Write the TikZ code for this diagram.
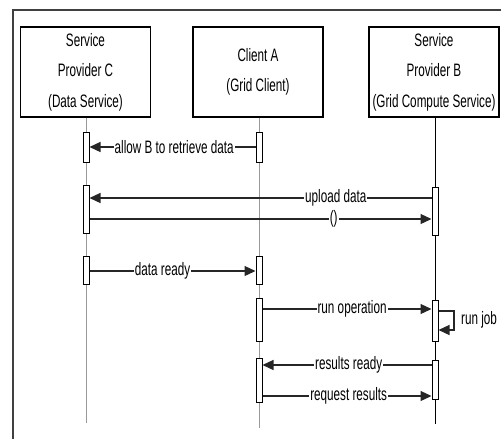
\documentclass[tikz,border=0pt]{standalone}
\usepackage{fontspec}
\setmainfont{Liberation Sans}[FakeStretch=0.65]
\usetikzlibrary{arrows.meta}
\begin{document}
\begin{tikzpicture}[x=1pt,y=-1pt,
  every node/.style={font={\fontsize{18}{30.5}\selectfont}},
  framestyle/.style={draw=black!75,line width=1.4pt},
  actor/.style={draw=black,line width=1.2pt,minimum width=130pt,minimum height=90pt,align=center,inner sep=0pt},
  greyline/.style={draw=black!40,line width=1pt},
  blackline/.style={draw=black,line width=1pt},
  bar/.style={draw=black,fill=white,line width=1pt,minimum width=6pt,inner sep=0pt},
  msg/.style={draw=black!85,line width=1.2pt},
  tip/.style={msg,-{Triangle[length=11pt,width=10pt]}},
  lbl/.style={fill=white,inner xsep=1pt,inner ysep=0pt}]
\useasboundingbox (0,0) rectangle (501,439);
% frame
\coordinate (fbl) at (13,440);
\coordinate (ftl) at (13,10);
\coordinate (ftr) at (502,10);
\draw[framestyle] (fbl) -- (ftl) -- (ftr);
% actors
\node[actor] (C) at (85.5,72) {Service\\Provider C\\(Data Service)};
\node[actor] (A) at (258,72) {Client A\\(Grid Client)};
\node[actor] (B) at (434,72) {Service\\Provider B\\(Grid Compute Service)};
% lifelines
\coordinate (Cend) at (86,423);
\coordinate (Aend) at (259,428);
\coordinate (Bend) at (435,424);
\draw[greyline] (C.south -| Cend) -- (Cend);
\draw[greyline] (A.south -| Aend) -- (Aend);
\draw[blackline] (B.south -| Bend) -- (Bend);
% activation bars
\node[bar,minimum height=30pt] (c1) at (86,147) {};
\node[bar,minimum height=30pt] (a1) at (259,147) {};
\node[bar,minimum height=48pt] (c2) at (86,209) {};
\node[bar,minimum height=48pt] (b1) at (435,211) {};
\node[bar,minimum height=28pt] (c3) at (86,270) {};
\node[bar,minimum height=28pt] (a2) at (259,270) {};
\node[bar,minimum height=43pt] (a3) at (259,319.5) {};
\node[bar,minimum height=41pt] (b2) at (435,320.5) {};
\node[bar,minimum height=44pt] (a4) at (259,380) {};
\node[bar,minimum height=39pt] (b3) at (435,379.5) {};
% messages
\draw[tip] (a1.west) -- node[lbl,pos=0.49] {allow B to retrieve data} (c1.east);
\draw[tip] (b1.west |- 0,198) -- node[lbl,pos=0.28] {upload data} (c2.east |- 0,198);
\draw[tip] (c2.east |- 0,219) -- node[lbl,pos=0.714] {()} (b1.west |- 0,219);
\draw[tip] (c3.east |- 0,271) -- node[lbl,pos=0.44] {data ready} (a2.west |- 0,271);
\draw[tip] (a3.east |- 0,309) -- node[lbl,pos=0.53] {run operation} (b2.west |- 0,309);
\coordinate (loop) at (454,311);
\draw[tip] (b2.east |- loop) -- (loop) |- (b2.east |- 0,330);
\node[anchor=west,inner sep=0pt] (runjob) at (461,320) {run job};
\draw[tip] (b3.west |- 0,365) -- node[lbl,pos=0.49] {results ready} (a4.east |- 0,365);
\draw[tip] (a4.east |- 0,396) -- node[lbl,pos=0.51] {request results} (b3.west |- 0,396);
\end{tikzpicture}
\end{document}
